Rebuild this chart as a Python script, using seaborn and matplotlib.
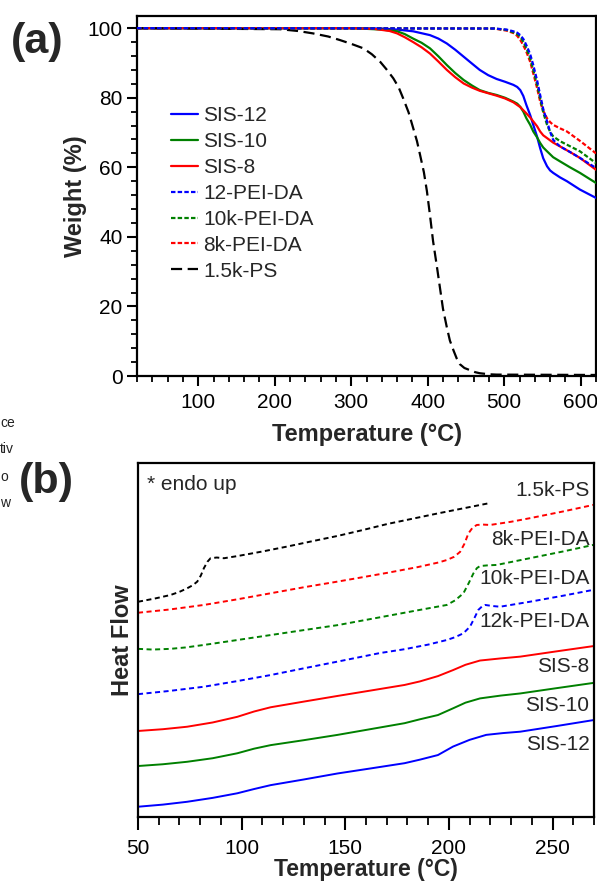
import numpy as np
import pandas as pd
import matplotlib
matplotlib.use("Agg")
import matplotlib.pyplot as plt
from matplotlib.ticker import MultipleLocator
import seaborn as sns

sns.set_theme(style="ticks")
plt.rcParams["font.family"] = ["Liberation Sans", "DejaVu Sans"]

# ---------------- TGA data (panel a) ----------------
tga_names = ["SIS-12", "SIS-10", "SIS-8", "12-PEI-DA", "10k-PEI-DA", "8k-PEI-DA", "1.5k-PS"]
tga_colors = ["#0000ff", "#008000", "#ff0000", "#0000ff", "#008000", "#ff0000", "#000000"]

sis12_T = [20, 300, 340, 360, 381, 403, 414, 425, 436, 447, 458, 468, 479, 490, 501, 512, 517, 521, 525,
           529, 534, 538, 543, 547, 551, 556, 560, 564, 573, 582, 599, 620]
sis12_W = [100, 100, 99.9, 99.6, 99.1, 98.0, 97.0, 95.6, 93.8, 91.8, 89.8, 88.0, 86.5, 85.4, 84.6, 83.7,
           83.1, 82.2, 80.5, 77.9, 75.0, 72.2, 68.8, 65.5, 62.6, 60.3, 59.1, 58.4, 57.1, 56.0, 53.6, 51.2]

sis10_T = [20, 300, 340, 360, 370, 381, 392, 403, 414, 425, 436, 447, 458, 468, 479, 490, 501, 512, 517,
           521, 525, 529, 534, 538, 543, 547, 551, 556, 564, 573, 586, 599, 620]
sis10_W = [100, 100, 99.6, 99.1, 98.3, 97.0, 95.8, 94.2, 91.9, 89.4, 87.1, 85.1, 83.5, 82.2, 81.4, 80.8,
           80.0, 78.9, 78.3, 77.4, 76.0, 74.1, 72.2, 70.3, 68.6, 67.0, 65.7, 64.6, 62.9, 61.7, 60.0, 58.4, 55.5]

sis8_T = [20, 300, 330, 350, 360, 370, 381, 392, 403, 414, 425, 436, 447, 458, 468, 479, 490, 501, 512,
          521, 529, 534, 538, 543, 547, 551, 556, 564, 573, 586, 599, 620]
sis8_W = [100, 100, 99.8, 99.2, 98.5, 97.4, 96.0, 94.5, 92.7, 90.4, 88.0, 85.9, 84.1, 82.9, 82.0, 81.3,
          80.6, 79.8, 78.7, 77.3, 75.5, 74.3, 73.2, 71.8, 70.3, 69.2, 68.4, 67.1, 66.0, 64.4, 62.7, 59.3]

pei12_T = [20, 487, 503, 512, 517, 521, 525, 529, 534, 538, 543, 547, 551, 556, 560, 564, 569, 573,
           586, 599, 620]
pei12_W = [100, 99.9, 99.6, 99.1, 98.7, 98.0, 96.9, 95.1, 92.5, 89.4, 85.0, 80.8, 76.8, 73.2, 70.2, 67.9,
           66.8, 66.0, 64.4, 62.7, 59.8]

pei10_T = [20, 487, 503, 512, 517, 521, 525, 529, 534, 538, 543, 547, 551, 556, 560, 564, 573, 582,
           599, 620]
pei10_W = [100, 99.9, 99.5, 98.8, 98.3, 97.5, 96.1, 94.2, 91.3, 88.0, 83.8, 79.8, 75.8, 72.2, 70.2, 68.9,
           67.5, 66.5, 64.6, 61.2]

pei8_T = [20, 487, 503, 512, 517, 521, 525, 529, 534, 538, 543, 547, 551, 556, 560, 564, 573, 582,
          599, 620]
pei8_W = [100, 99.9, 99.3, 98.6, 97.8, 96.6, 95.1, 93.2, 90.3, 87.0, 82.8, 78.9, 76.2, 74.1, 73.0, 72.2,
          71.2, 70.3, 67.6, 64.0]

ps_T = [20, 207, 230, 250, 270, 285, 300, 316, 327, 338, 346, 355, 362, 368, 375, 381, 386, 390, 395,
        399, 403, 407, 412, 416, 420, 425, 429, 434, 438, 442, 448, 455, 462, 468, 480, 490, 620]
ps_W = [100, 99.7, 99.2, 98.5, 97.6, 96.6, 95.5, 94.2, 92.5, 90.3, 88.2, 85.6, 83.0, 79.8, 75.8, 71.3,
        67.5, 63.6, 58.6, 53.1, 46.2, 38.8, 31.5, 25.4, 19.3, 14.0, 10.2, 7.2, 5.0, 3.4, 2.3, 1.7, 1.1,
        0.8, 0.5, 0.4, 0.3]

tga_T = [sis12_T, sis10_T, sis8_T, pei12_T, pei10_T, pei8_T, ps_T]
tga_W = [sis12_W, sis10_W, sis8_W, pei12_W, pei10_W, pei8_W, ps_W]
tga_dash = [None, None, None, (2, 1), (2, 1), (2, 1), (5, 2.5)]
tga_z = [3, 3, 3, 6, 5, 4, 3]

# ---------------- DSC data (panel b) ----------------
dsc_names = ["1.5k-PS", "8k-PEI-DA", "10k-PEI-DA", "12k-PEI-DA", "SIS-8", "SIS-10", "SIS-12"]
dsc_colors = ["#000000", "#ff0000", "#008000", "#0000ff", "#ff0000", "#008000", "#0000ff"]

ps_dT = [50, 58, 65.6, 70, 73.7, 76.5, 78.6, 80.3, 81.8, 83.5, 85, 88, 91.5, 97.9, 110, 122, 134,
         146.3, 158, 170.5, 195, 219]
ps_dV = [60.8, 61.7, 62.7, 63.6, 64.6, 65.5, 66.5, 68.2, 70.3, 72.1, 73.1, 73.3, 73.1, 73.7, 75.0,
         76.4, 77.9, 79.4, 81.0, 82.8, 85.8, 88.6]

pei8_dT = [50, 65, 81.8, 98, 114, 130, 146.3, 158, 170.5, 185, 195, 199, 202.5, 205.4, 207.5, 209.4,
           211.5, 213.5, 216.5, 219.9, 230, 239, 255, 270]
pei8_dV = [57.7, 58.6, 59.9, 61.5, 63.2, 64.9, 66.5, 67.7, 69.0, 70.6, 71.9, 72.6, 73.5, 74.9, 77.2,
           80.1, 81.8, 82.5, 82.6, 82.5, 83.4, 84.4, 86.3, 88.2]

pei10_dT = [50, 57, 65.6, 73, 81.8, 98, 114, 130, 146.3, 166.6, 185, 199, 203, 207, 209.5, 211.8,
            213.5, 215, 219, 223, 239, 255, 270]
pei10_dV = [47.5, 47.3, 47.5, 47.9, 48.6, 50.0, 51.4, 52.8, 54.2, 56.4, 58.4, 59.9, 61.2, 63.2, 66.0,
            68.8, 70.3, 70.9, 71.1, 71.2, 73.1, 75.0, 76.9]

pei12_dT = [50, 65, 81.8, 98, 114, 130, 146.3, 166.6, 178.6, 190, 199, 203, 207, 210.2, 212.3, 214.2,
            216, 217.5, 221, 224.7, 239, 255, 270]
pei12_dV = [34.7, 35.6, 36.8, 38.4, 40.1, 42.0, 43.9, 46.3, 47.4, 48.7, 50.0, 50.8, 51.9, 53.8, 56.2,
            58.5, 59.5, 59.9, 59.6, 59.4, 60.8, 62.5, 64.2]

sis8_dT = [50, 62, 73.7, 86, 97.9, 106, 114, 130, 146.3, 162, 178.6, 186, 194.7, 202, 208, 215, 225,
           234.4, 252, 270]
sis8_dV = [24.3, 24.8, 25.5, 26.7, 28.3, 29.8, 31.0, 32.6, 34.2, 35.7, 37.3, 38.3, 39.8, 41.5, 43.0,
           44.2, 44.8, 45.3, 46.8, 48.3]

sis10_dT = [50, 62, 73.7, 86, 97.9, 106, 114, 130, 146.3, 162, 178.6, 186, 194.7, 202, 208, 215, 225,
            234.4, 252, 270]
sis10_dV = [14.4, 14.9, 15.6, 16.6, 18.0, 19.3, 20.3, 21.7, 23.2, 24.8, 26.5, 27.6, 28.8, 30.7, 32.3,
            33.5, 34.3, 34.9, 36.4, 37.9]

sis12_dT = [50, 62, 73.7, 86, 97.9, 106, 114, 130, 146.3, 162, 178.6, 186, 194.7, 202, 210, 218, 226,
            234.4, 252, 270]
sis12_dV = [2.9, 3.5, 4.3, 5.4, 6.7, 7.9, 9.0, 10.6, 12.3, 13.7, 15.2, 16.2, 17.5, 19.9, 21.8, 23.2,
            23.7, 24.1, 25.7, 27.4]

dsc_T = [ps_dT, pei8_dT, pei10_dT, pei12_dT, sis8_dT, sis10_dT, sis12_dT]
dsc_V = [ps_dV, pei8_dV, pei10_dV, pei12_dV, sis8_dV, sis10_dV, sis12_dV]
dsc_dash = [(2.6, 1.8), (2.6, 1.8), (2.6, 1.8), (2.6, 1.8), None, None, None]

# ---------------- figure ----------------
W_PX, H_PX, DPI = 597, 885, 100
fig = plt.figure(figsize=(W_PX / DPI, H_PX / DPI), dpi=DPI)
fig.patch.set_facecolor("white")

TICK_FS = 15
LABEL_FS = 17
TEXT_FS = 15


def px_axes(x0, y0, x1, y1):
    return fig.add_axes([x0 / W_PX, 1 - y1 / H_PX, (x1 - x0) / W_PX, (y1 - y0) / H_PX])


def style_axes(ax, major_len, minor_len, pad):
    ax.set_facecolor("white")
    for s in ax.spines.values():
        s.set_linewidth(1.6)
        s.set_color("black")
        s.set_visible(True)
    ax.tick_params(which="major", direction="out", length=major_len, width=1.5,
                   colors="black", labelsize=TICK_FS, pad=pad)
    ax.tick_params(which="minor", direction="out", length=minor_len, width=1.3, colors="black")
    ax.grid(False)


# Panel (a): TGA
axa = px_axes(137, 16, 596, 376)
for name, T, Wt, c, d, z in zip(tga_names, tga_T, tga_W, tga_colors, tga_dash, tga_z):
    df = pd.DataFrame({"T": T, "W": Wt})
    sns.lineplot(data=df, x="T", y="W", ax=axa, color=c, linewidth=1.6,
                 label=name, sort=False, estimator=None, zorder=z)
    if d is not None:
        axa.lines[-1].set_dashes(d)
axa.set_xlim(20, 620)
axa.set_ylim(0, 103.5)
axa.xaxis.set_major_locator(MultipleLocator(100))
axa.xaxis.set_minor_locator(MultipleLocator(20))
axa.yaxis.set_major_locator(MultipleLocator(20))
axa.yaxis.set_minor_locator(MultipleLocator(4))
style_axes(axa, 7.5, 4.5, 3)
axa.tick_params(axis="x", which="major", pad=4.5)
axa.set_xticks([100, 200, 300, 400, 500, 600])
axa.set_xlabel("Temperature (°C)", fontsize=LABEL_FS, fontweight="bold", labelpad=8)
axa.set_ylabel("Weight (%)", fontsize=LABEL_FS, fontweight="bold", labelpad=0.5)
leg = axa.legend(loc="upper left", bbox_to_anchor=(0.057, 0.772), frameon=False,
                 fontsize=TEXT_FS, handlelength=1.25, handletextpad=0.28, labelspacing=0.33,
                 borderaxespad=0)
for h in leg.get_lines():
    h.set_linewidth(1.6)

fig.text(11 / W_PX, 1 - 42 / H_PX, "(a)", fontsize=31, fontweight="bold", va="center", ha="left")

# Panel (b): DSC
axb = px_axes(138, 463, 594, 817)
for name, T, V, c, d in zip(dsc_names, dsc_T, dsc_V, dsc_colors, dsc_dash):
    df = pd.DataFrame({"T": T, "V": V})
    sns.lineplot(data=df, x="T", y="V", ax=axb, color=c, linewidth=1.4,
                 sort=False, estimator=None)
    if d is not None:
        axb.lines[-1].set_dashes(d)
axb.set_xlim(50, 270)
axb.set_ylim(0, 100)
axb.xaxis.set_major_locator(MultipleLocator(50))
axb.xaxis.set_minor_locator(MultipleLocator(10))
style_axes(axb, 9, 6, 7)
axb.set_yticks([])
axb.set_xlabel("Temperature (°C)", fontsize=16.5, fontweight="bold", labelpad=0)
axb.set_ylabel("Heat Flow", fontsize=LABEL_FS, fontweight="bold", labelpad=3)

label_y = {"1.5k-PS": 92.3, "8k-PEI-DA": 78.5, "10k-PEI-DA": 67.3, "12k-PEI-DA": 55.1,
           "SIS-8": 42.4, "SIS-10": 31.6, "SIS-12": 20.6}
for name in dsc_names:
    axb.text(0.99, label_y[name] / 100, name, transform=axb.transAxes,
             ha="right", va="center", fontsize=TEXT_FS)
axb.text(0.02, 0.94, "* endo up", transform=axb.transAxes, ha="left", va="center", fontsize=TEXT_FS)

fig.text(19 / W_PX, 1 - 482 / H_PX, "(b)", fontsize=31, fontweight="bold", va="center", ha="left")

# text fragments at the left margin
for frag, yy in zip(["ce", "tiv", "o", "w"], [423, 449, 477, 503]):
    fig.text(0, 1 - yy / H_PX, frag, fontsize=10, va="center", ha="left", color="#222222")

fig.savefig("out.png", dpi=DPI, facecolor="white")
